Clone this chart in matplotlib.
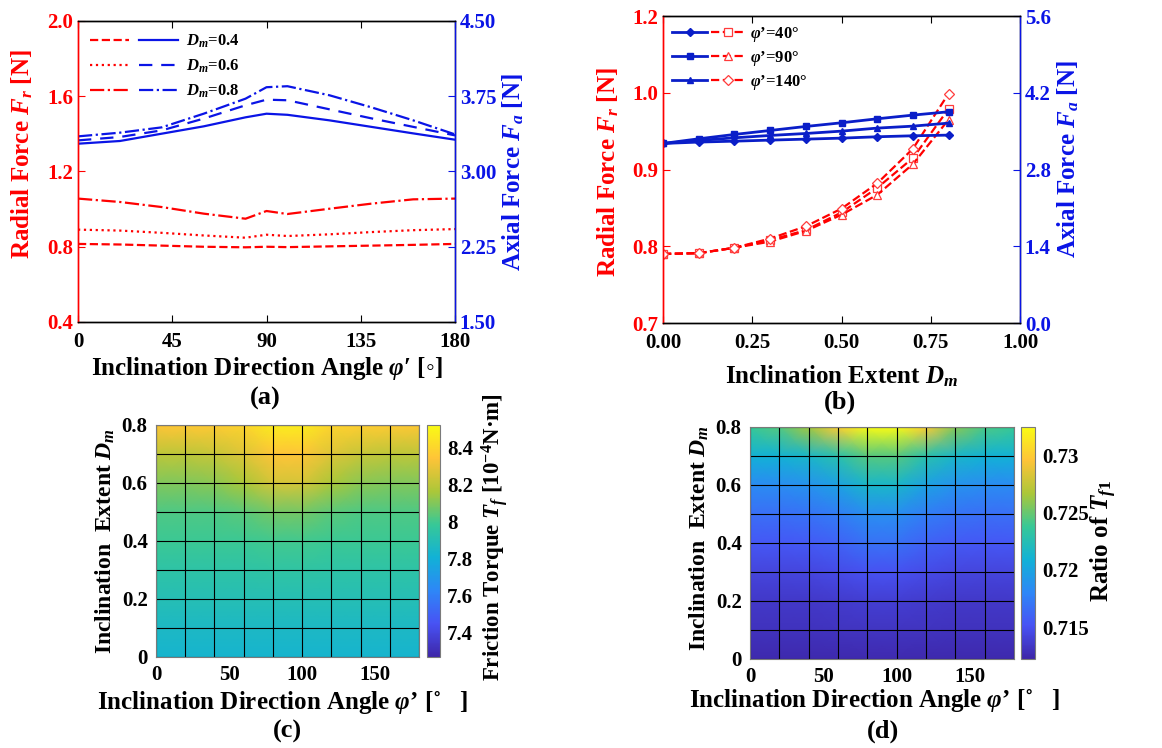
import matplotlib
matplotlib.use("Agg")
import matplotlib.pyplot as plt
import numpy as np
from matplotlib.colors import LinearSegmentedColormap
from matplotlib.legend_handler import HandlerTuple

# ---------------------------------------------------------------------------
# Data
# ---------------------------------------------------------------------------
# (a) forces vs. inclination direction angle
PHI = [0, 20, 40, 60, 80, 90, 100, 120, 140, 160, 180]
FR_04 = [0.815, 0.812, 0.806, 0.800, 0.797, 0.800, 0.798, 0.802, 0.806, 0.810, 0.815]
FR_06 = [0.891, 0.886, 0.874, 0.860, 0.848, 0.864, 0.857, 0.866, 0.878, 0.888, 0.894]
FR_08 = [1.056, 1.038, 1.011, 0.976, 0.949, 0.990, 0.974, 1.002, 1.029, 1.052, 1.056]
FA_04 = [3.277, 3.304, 3.377, 3.450, 3.540, 3.576, 3.565, 3.510, 3.445, 3.380, 3.317]
FA_06 = [3.310, 3.344, 3.410, 3.527, 3.660, 3.716, 3.710, 3.620, 3.530, 3.445, 3.360]
FA_08 = [3.350, 3.387, 3.440, 3.576, 3.726, 3.840, 3.850, 3.760, 3.640, 3.510, 3.370]
DM_LABELS = ["$D_m$=0.4", "$D_m$=0.6", "$D_m$=0.8"]

# (b) forces vs. inclination extent
DM = [0.0, 0.1, 0.2, 0.3, 0.4, 0.5, 0.6, 0.7, 0.8]
FR_40 = [0.790, 0.791, 0.798, 0.808, 0.821, 0.844, 0.876, 0.915, 0.979]
FR_90 = [0.790, 0.791, 0.798, 0.806, 0.820, 0.841, 0.867, 0.907, 0.965]
FR_140 = [0.790, 0.791, 0.798, 0.810, 0.826, 0.849, 0.882, 0.927, 0.999]
FA_40 = [3.275, 3.300, 3.317, 3.336, 3.354, 3.372, 3.397, 3.415, 3.427]
FA_90 = [3.275, 3.360, 3.439, 3.512, 3.585, 3.652, 3.725, 3.792, 3.853]
FA_140 = [3.275, 3.330, 3.378, 3.421, 3.457, 3.500, 3.555, 3.591, 3.646]
PHI_LABELS = ["$\\varphi$\u2019=40\u00b0", "$\\varphi$\u2019=90\u00b0", "$\\varphi$\u2019=140\u00b0"]
B_LEFT_TICKS = [0.7, 0.8, 0.9, 1.0, 1.1]
B_LEFT_LABELS = ["0.7", "0.8", "0.9", "1.0", "1.2"]

# (c) friction torque map, rows = D_m 0..0.8, cols = phi 0..180 step 20
MAP_PHI = [0, 20, 40, 60, 80, 100, 120, 140, 160, 180]
MAP_DM = [0.0, 0.1, 0.2, 0.3, 0.4, 0.5, 0.6, 0.7, 0.8]
TF = [
    [7.83, 7.83, 7.83, 7.83, 7.83, 7.83, 7.83, 7.83, 7.83, 7.83],
    [7.86, 7.86, 7.86, 7.86, 7.86, 7.86, 7.86, 7.86, 7.86, 7.86],
    [7.90, 7.90, 7.90, 7.90, 7.90, 7.90, 7.90, 7.90, 7.90, 7.90],
    [7.94, 7.94, 7.94, 7.94, 7.95, 7.95, 7.94, 7.94, 7.94, 7.94],
    [7.99, 7.99, 7.99, 7.99, 8.00, 8.00, 7.99, 7.99, 7.99, 7.99],
    [8.02, 8.02, 8.02, 8.04, 8.08, 8.08, 8.04, 8.02, 8.02, 8.02],
    [8.10, 8.10, 8.11, 8.16, 8.25, 8.25, 8.16, 8.11, 8.10, 8.10],
    [8.20, 8.20, 8.22, 8.27, 8.34, 8.34, 8.27, 8.22, 8.20, 8.20],
    [8.34, 8.35, 8.36, 8.39, 8.47, 8.47, 8.39, 8.37, 8.36, 8.35],
]
TF_TICKS = [7.4, 7.6, 7.8, 8.0, 8.2, 8.4]
TF_TICKLABELS = ["7.4", "7.6", "7.8", "8", "8.2", "8.4"]

# (d) ratio map
RATIO = [
    [0.7124, 0.7124, 0.7124, 0.7124, 0.7125, 0.7125, 0.7124, 0.7124, 0.7124, 0.7124],
    [0.7130, 0.7130, 0.7130, 0.7131, 0.7132, 0.7132, 0.7131, 0.7130, 0.7130, 0.7130],
    [0.7134, 0.7134, 0.7134, 0.7136, 0.7138, 0.7138, 0.7136, 0.7134, 0.7134, 0.7134],
    [0.7142, 0.7142, 0.7143, 0.7146, 0.7150, 0.7150, 0.7146, 0.7143, 0.7142, 0.7142],
    [0.7154, 0.7154, 0.7156, 0.7160, 0.7168, 0.7168, 0.7160, 0.7156, 0.7154, 0.7154],
    [0.7167, 0.7167, 0.7169, 0.7175, 0.7185, 0.7185, 0.7175, 0.7169, 0.7167, 0.7167],
    [0.7183, 0.7184, 0.7188, 0.7198, 0.7215, 0.7215, 0.7198, 0.7188, 0.7184, 0.7183],
    [0.7209, 0.7210, 0.7215, 0.7228, 0.7245, 0.7245, 0.7228, 0.7215, 0.7210, 0.7209],
    [0.7238, 0.7245, 0.7265, 0.7300, 0.7325, 0.7325, 0.7300, 0.7258, 0.7243, 0.7238],
]
RATIO_TICKS = [0.715, 0.72, 0.725, 0.73]
RATIO_TICKLABELS = ["0.715", "0.72", "0.725", "0.73"]

# ---------------------------------------------------------------------------
# Style
# ---------------------------------------------------------------------------
RED = "#FF0000"
RED_LIGHT = "#FF3B3B"
BLUE = "#0A14E6"
BLUE_B = "#0A1EC8"
PARULA = LinearSegmentedColormap.from_list("parula", [
    (0.2422, 0.1504, 0.6603), (0.2810, 0.3228, 0.9579), (0.1786, 0.5289, 0.9682),
    (0.0689, 0.6948, 0.8394), (0.2161, 0.7843, 0.5923), (0.6720, 0.7793, 0.2227),
    (0.9970, 0.7659, 0.2199), (0.9769, 0.9839, 0.0805)])

plt.rcParams.update({
    "font.family": ["Liberation Serif", "DejaVu Sans"],
    "font.weight": "bold",
    "axes.labelweight": "bold",
    "mathtext.fontset": "custom",
    "mathtext.rm": "Liberation Serif:bold",
    "mathtext.it": "Liberation Serif:italic:bold",
    "mathtext.bf": "Liberation Serif:bold",
    "font.size": 15,
    "axes.linewidth": 1.0,
    "xtick.direction": "in",
    "ytick.direction": "in",
})

TICK_FS = 15
LABEL_FS = 18
W, H = 1162, 748


def frac(left, top, right, bottom):
    return [left / W, 1 - bottom / H, (right - left) / W, (bottom - top) / H]


def place(axis, x, y):
    axis.set_label_coords(x, y)
    axis.label.set_va("center")


fig = plt.figure(figsize=(W / 100, H / 100), dpi=100)

# ---------------------------------------------------------------------------
# (a)
# ---------------------------------------------------------------------------
ax = fig.add_axes(frac(78, 21, 455, 322))
axr = ax.twinx()
red_styles = ["--", ":", "-."]
blue_styles = ["-", (0, (6, 4)), "-."]
handles = []
for fr, fa, rls, bls in zip([FR_04, FR_06, FR_08], [FA_04, FA_06, FA_08],
                            red_styles, blue_styles):
    r, = ax.plot(PHI, fr, color=RED, ls=rls, lw=1.6)
    b, = axr.plot(PHI, fa, color=BLUE, ls=bls, lw=1.6)
    handles.append((r, b))
ax.set_xlim(0, 180)
ax.set_ylim(0.4, 2.0)
axr.set_ylim(1.5, 4.5)
ax.set_xticks([0, 45, 90, 135, 180])
ax.set_yticks([0.4, 0.8, 1.2, 1.6, 2.0])
axr.set_yticks([1.5, 2.25, 3.0, 3.75, 4.5])
axr.set_yticklabels(["1.50", "2.25", "3.00", "3.75", "4.50"])
ax.tick_params(axis="x", labelsize=TICK_FS, top=True, length=5, pad=7)
ax.tick_params(axis="y", labelsize=TICK_FS, colors=RED, length=5)
axr.tick_params(axis="y", labelsize=TICK_FS, colors=BLUE, length=5)
ax.spines["left"].set_color(RED)
axr.spines["left"].set_color(RED)
axr.spines["right"].set_color(BLUE)
ax.set_xlabel("Inclination Direction Angle $\\varphi\\prime$ [\u25e6]", fontsize=LABEL_FS)
place(ax.xaxis, 0.5, -0.153)
ax.set_ylabel("Radial Force $F_r$ [N]", fontsize=LABEL_FS, color=RED)
place(ax.yaxis, -0.149, 0.558)
axr.set_ylabel("Axial Force $F_a$ [N]", fontsize=LABEL_FS, color=BLUE)
place(axr.yaxis, 1.154, 0.498)
ax.legend(handles, DM_LABELS, handler_map={tuple: HandlerTuple(ndivide=None, pad=0.6)},
          loc="upper left", frameon=False, fontsize=12, handlelength=5.3,
          labelspacing=0.45, borderaxespad=0.3, handletextpad=0.5)

# ---------------------------------------------------------------------------
# (b)
# ---------------------------------------------------------------------------
bx = fig.add_axes(frac(663, 16, 1020, 323))
bxr = bx.twinx()
markers = ["D", "s", "^"]
open_markers = ["s", "^", "D"]
handles = []
for fr, fa, mk, omk in zip([FR_40, FR_90, FR_140], [FA_40, FA_90, FA_140],
                           markers, open_markers):
    b, = bxr.plot(DM, fa, color=BLUE_B, ls="-", lw=2.0, marker=mk,
                  ms=5 if mk != "D" else 4.5)
    r, = bx.plot(DM, fr, color=RED, ls="--", lw=1.6, marker=omk,
                 ms=5.5, mfc="white", mec=RED_LIGHT, mew=0.9)
    handles.append((b, r))
bx.set_xlim(0, 1.0)
bx.set_ylim(0.7, 1.1)
bxr.set_ylim(0, 5.6)
bx.set_xticks([0, 0.25, 0.5, 0.75, 1.0])
bx.set_xticklabels(["0.00", "0.25", "0.50", "0.75", "1.00"])
bx.set_yticks(B_LEFT_TICKS)
bx.set_yticklabels(B_LEFT_LABELS)
bxr.set_yticks([0, 1.4, 2.8, 4.2, 5.6])
bxr.set_yticklabels(["0.0", "1.4", "2.8", "4.2", "5.6"])
bx.tick_params(axis="x", labelsize=TICK_FS, top=True, length=5, pad=7)
bx.tick_params(axis="y", labelsize=TICK_FS, colors=RED, length=5)
bxr.tick_params(axis="y", labelsize=TICK_FS, colors=BLUE, length=5)
bx.spines["left"].set_color(RED)
bxr.spines["left"].set_color(RED)
bxr.spines["right"].set_color(BLUE)
bx.set_xlabel("Inclination Extent $D_m$", fontsize=LABEL_FS)
place(bx.xaxis, 0.501, -0.172)
bx.set_ylabel("Radial Force $F_r$ [N]", fontsize=LABEL_FS, color=RED)
place(bx.yaxis, -0.154, 0.492)
bxr.set_ylabel("Axial Force $F_a$ [N]", fontsize=LABEL_FS, color=BLUE)
place(bxr.yaxis, 1.134, 0.534)
bxr.legend(handles, PHI_LABELS, handler_map={tuple: HandlerTuple(ndivide=None, pad=0.2)},
           loc="upper left", frameon=False, fontsize=12, handlelength=4.4,
           labelspacing=0.3, borderaxespad=0.15, handletextpad=0.3)


# ---------------------------------------------------------------------------
# (c), (d) maps
# ---------------------------------------------------------------------------
def draw_map(box, cbox, values, vmin, vmax, cticks, cticklabels, clabel, clabel_fs,
             xlab_xy, ylab_xy, clab_xy):
    mx = fig.add_axes(frac(*box))
    X, Y = np.meshgrid(MAP_PHI, MAP_DM)
    mesh = mx.pcolormesh(X, Y, np.array(values), shading="gouraud", cmap=PARULA,
                         vmin=vmin, vmax=vmax)
    for v in MAP_PHI:
        mx.axvline(v, color="black", lw=0.8)
    for v in MAP_DM:
        mx.axhline(v, color="black", lw=0.8)
    mx.set_xlim(0, 180)
    mx.set_ylim(0, 0.8)
    mx.set_xticks([0, 50, 100, 150])
    mx.set_yticks([0, 0.2, 0.4, 0.6, 0.8])
    mx.set_yticklabels(["0", "0.2", "0.4", "0.6", "0.8"])
    mx.tick_params(which="both", length=0, labelsize=TICK_FS, pad=6)
    for s in mx.spines.values():
        s.set_color("#7a7a7a")
        s.set_linewidth(0.8)
    mx.set_xlabel("Inclination Direction Angle $\\varphi$\u2019 [\u02da   ]", fontsize=LABEL_FS)
    place(mx.xaxis, *xlab_xy)
    mx.set_ylabel("Inclination  Extent $D_m$", fontsize=17)
    place(mx.yaxis, *ylab_xy)

    cx = fig.add_axes(frac(*cbox))
    cb = fig.colorbar(mesh, cax=cx)
    cb.set_ticks(cticks)
    cb.set_ticklabels(cticklabels)
    cb.outline.set_edgecolor("#7a7a7a")
    cb.outline.set_linewidth(0.8)
    cx.tick_params(length=0, labelsize=TICK_FS, pad=5)
    cx.set_ylabel(clabel, fontsize=clabel_fs)
    place(cx.yaxis, *clab_xy)
    return mx


draw_map((156, 425, 419, 657), (427, 425, 440, 657), TF, 7.27, 8.52,
         TF_TICKS, TF_TICKLABELS, "Friction Torque $T_f$ [10$^{-4}$N\u00b7m]", 16.5,
         (0.48, -0.194), (-0.194, 0.5), (5.2, 0.517))
draw_map((750, 427, 1014, 659), (1021, 427, 1035, 659), RATIO, 0.7122, 0.7325,
         RATIO_TICKS, RATIO_TICKLABELS, "Ratio of $T_{f1}$", LABEL_FS,
         (0.47, -0.177), (-0.19, 0.52), (5.9, 0.51))

# panel letters
for txt, x, y in [("(a)", 265, 398), ("(b)", 840, 402), ("(c)", 287, 731), ("(d)", 883, 731)]:
    fig.text(x / W, 1 - y / H, txt, ha="center", va="center", fontsize=LABEL_FS + 1)

fig.savefig("out.png", dpi=100)
